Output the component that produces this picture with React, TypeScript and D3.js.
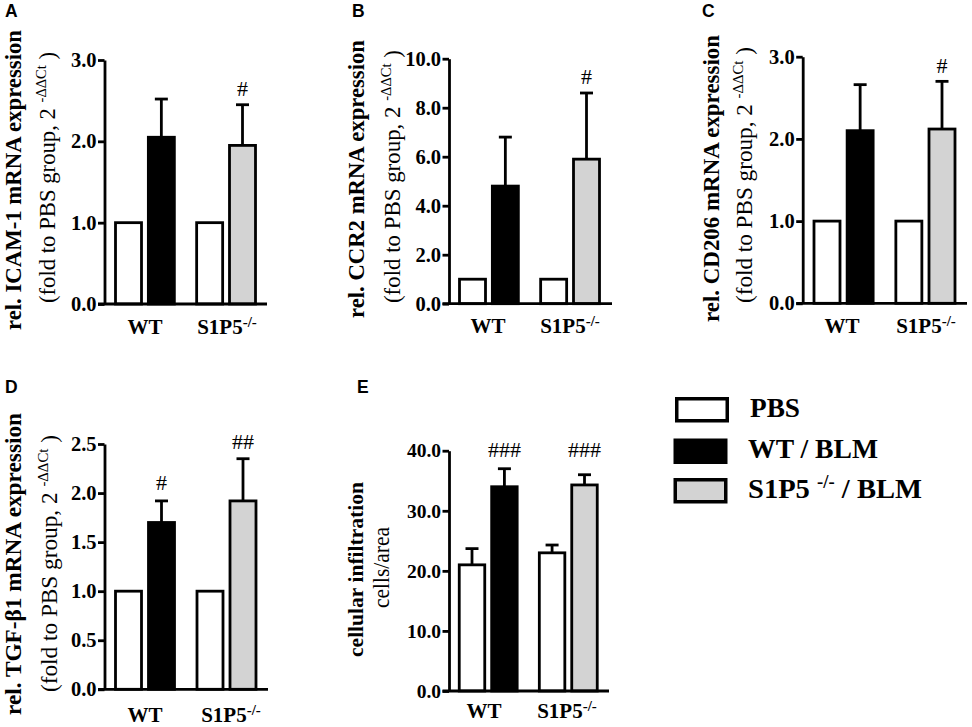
import React, { useEffect, useRef } from "react";
import * as d3 from "d3";

const groups = ["PBS", "WT / BLM", "S1P5 -/- / BLM"];
const fills = ["#ffffff", "#000000", "#d3d3d3"];
const barGroup = [0, 1, 0, 2];
const slots = [0, 1, 2.47, 3.47];

const aMeans = [1, 2.05, 1, 1.95];
const aUpper = [null, 2.52, null, 2.45];
const aTicks = [0, 1, 2, 3];
const bMeans = [1, 4.8, 1, 5.9];
const bUpper = [null, 6.8, null, 8.6];
const bTicks = [0, 2, 4, 6, 8, 10];
const cMeans = [1, 2.1, 1, 2.12];
const cUpper = [null, 2.66, null, 2.7];
const cTicks = [0, 1, 2, 3];
const dMeans = [1, 1.7, 1, 1.92];
const dUpper = [null, 1.92, null, 2.35];
const dTicks = [0, 0.5, 1, 1.5, 2, 2.5];
const eMeans = [21, 34, 23, 34.3];
const eUpper = [23.7, 37, 24.3, 36];
const eTicks = [0, 10, 20, 30, 40];

const panels = [
  { id: "A", lx: 5, ly: 17, means: aMeans, upper: aUpper, ticks: aTicks, ax: 104.5, top: 60, bot: 304, end: 267, c0: 128.5, c3: 242.5, bw: 26, tf: 20.5, xf: 21, xb: 334, wt: 145, ko: 227,
    main: "rel. ICAM-1 mRNA expression", mx: 21, my0: 330, my1: 30, sx: 55, sy0: 303, sy1: 52, hashes: [null, null, null, "#"], hy: [0, 0, 0, 96] },
  { id: "B", lx: 352, ly: 17, means: bMeans, upper: bUpper, ticks: bTicks, ax: 449, top: 58.7, bot: 303.7, end: 612, c0: 472.5, c3: 586.5, bw: 26, tf: 20.5, xf: 21, xb: 333, wt: 488, ko: 570,
    main: "rel. CCR2 mRNA expression", mx: 364, my0: 318, my1: 40, sx: 400, sy0: 303, sy1: 50, hashes: [null, null, null, "#"], hy: [0, 0, 0, 84] },
  { id: "C", lx: 702, ly: 17, means: cMeans, upper: cUpper, ticks: cTicks, ax: 802.7, top: 56.7, bot: 303.3, end: 967, c0: 827, c3: 942, bw: 26, tf: 20.5, xf: 21, xb: 333, wt: 842, ko: 926,
    main: "rel. CD206 mRNA expression", mx: 719, my0: 322, my1: 35, sx: 752, sy0: 303, sy1: 47, hashes: [null, null, null, "#"], hy: [0, 0, 0, 73] },
  { id: "D", lx: 5, ly: 393, means: dMeans, upper: dUpper, ticks: dTicks, ax: 104.5, top: 444, bot: 689.3, end: 268, c0: 128.5, c3: 243, bw: 26, tf: 20.5, xf: 21, xb: 722, wt: 145, ko: 231,
    main: "rel. TGF-\u03B21 mRNA expression", mx: 21, my0: 715, my1: 413, sx: 57, sy0: 692, sy1: 435, hashes: [null, "#", null, "##"], hy: [0, 490, 0, 449] },
  { id: "E", lx: 357, ly: 393, means: eMeans, upper: eUpper, ticks: eTicks, ax: 449, top: 450.7, bot: 691, end: 609, c0: 472, c3: 584.5, bw: 25.5, tf: 19.5, xf: 21, xb: 718, wt: 484, ko: 567,
    main: "cellular infiltration", mx: 363, my0: 657, my1: 482, sx: 389, sy0: 608, sy1: 527, hashes: ["", "###", "", "###"], hy: [0, 457, 0, 457], sub: "cells/area" },
];

const legendBoxX = [675, 673.5, 673.5];
const legendY = [397, 438.5, 478];
const legendTextX = [750, 748, 748];
const legendBase = [417, 458, 498];
const legendLen = [50, 130, 174];
const serif = "'Liberation Serif', serif";

export default function App() {
  const ref = useRef<SVGSVGElement>(null);
  useEffect(() => {
    const svg = d3.select(ref.current);
    svg.selectAll("*").remove();
    svg.style("font-family", serif);

    panels.forEach((p: any) => {
      const g = svg.append("g");
      const y = d3.scaleLinear().domain([0, d3.max(p.ticks) as number]).range([p.bot, p.top]);
      const x = d3.scaleLinear().domain([slots[0], slots[3]]).range([p.c0, p.c3]);

      g.append("text").text(p.id).attr("x", p.lx).attr("y", p.ly)
        .attr("font-family", "'Liberation Sans', sans-serif").attr("font-weight", 700).attr("font-size", 17.5);

      p.means.forEach((m: number, i: number) => {
        const cx = x(slots[i]);
        const up = p.upper[i];
        if (up !== null) {
          g.append("line").attr("x1", cx).attr("x2", cx).attr("y1", y(m)).attr("y2", y(up))
            .attr("stroke", "#000").attr("stroke-width", 2.8);
          g.append("line").attr("x1", cx - 6.5).attr("x2", cx + 6.5).attr("y1", y(up)).attr("y2", y(up))
            .attr("stroke", "#000").attr("stroke-width", 2.8);
        }
        g.append("rect").attr("x", cx - p.bw / 2).attr("width", p.bw)
          .attr("y", y(m)).attr("height", p.bot - y(m))
          .attr("fill", fills[barGroup[i]]).attr("stroke", "#000").attr("stroke-width", 2.8);
        if (p.hashes[i]) {
          g.append("text").text(p.hashes[i]).attr("x", cx).attr("y", p.hy[i])
            .attr("text-anchor", "middle").attr("font-size", 22);
        }
      });

      const axis = d3.axisLeft(y).tickValues(p.ticks).tickFormat(d3.format(".1f") as any)
        .tickSize(6.5).tickSizeOuter(0).tickPadding(1.5);
      const ag = g.append("g").attr("transform", `translate(${p.ax},0)`).call(axis);
      ag.select(".domain").attr("stroke", "#000").attr("stroke-width", 2.8);
      ag.selectAll(".tick line").attr("stroke", "#000").attr("stroke-width", 2.8);
      ag.selectAll("text").attr("font-family", serif).attr("font-weight", 700).attr("font-size", p.tf).attr("fill", "#000");

      g.append("line").attr("x1", p.ax - 6.5).attr("x2", p.end).attr("y1", p.bot).attr("y2", p.bot)
        .attr("stroke", "#000").attr("stroke-width", 2.8);

      g.append("text").text("WT").attr("x", p.wt).attr("y", p.xb).attr("text-anchor", "middle")
        .attr("font-weight", 700).attr("font-size", p.xf);
      const ko = g.append("text").attr("x", p.ko).attr("y", p.xb).attr("text-anchor", "middle")
        .attr("font-weight", 700).attr("font-size", p.xf);
      ko.append("tspan").text("S1P5");
      ko.append("tspan").text("-/-").attr("dy", -7).attr("font-size", 15);

      g.append("text").text(p.main)
        .attr("transform", `translate(${p.mx},${p.my0}) rotate(-90)`)
        .attr("font-weight", 700).attr("font-size", p.id === "E" ? 22 : 23.5)
        .attr("textLength", p.my0 - p.my1).attr("lengthAdjust", "spacingAndGlyphs");

      const s = g.append("text")
        .attr("transform", `translate(${p.sx},${p.sy0}) rotate(-90)`)
        .attr("font-size", p.id === "E" ? 23 : 23.5)
        .attr("textLength", p.sy0 - p.sy1).attr("lengthAdjust", "spacingAndGlyphs");
      if (p.sub) {
        s.text(p.sub);
      } else {
        s.append("tspan").text("(fold to PBS group, 2 ");
        s.append("tspan").text("-\u0394\u0394Ct").attr("dy", -9).attr("font-size", 15);
        s.append("tspan").text(" )").attr("dy", 9);
      }
    });

    const legend = svg.append("g");
    groups.forEach((name, i) => {
      legend.append("rect").attr("x", legendBoxX[i] + 1.75).attr("y", legendY[i] + 1.75).attr("width", 50.5).attr("height", 22)
        .attr("fill", fills[i]).attr("stroke", "#000").attr("stroke-width", 3.5);
      const t = legend.append("text").attr("x", legendTextX[i]).attr("y", legendBase[i])
        .attr("font-weight", 700).attr("font-size", 27.5)
        .attr("textLength", legendLen[i]).attr("lengthAdjust", "spacingAndGlyphs");
      if (i === 2) {
        t.append("tspan").text("S1P5 ");
        t.append("tspan").text("-/-").attr("dy", -10).attr("font-size", 18);
        t.append("tspan").text(" / BLM").attr("dy", 10);
      } else {
        t.text(name);
      }
    });
  }, []);

  return <svg ref={ref} width={972} height={727} style={{ position: "absolute", left: 0, top: 0, background: "#fff" }} />;
}
